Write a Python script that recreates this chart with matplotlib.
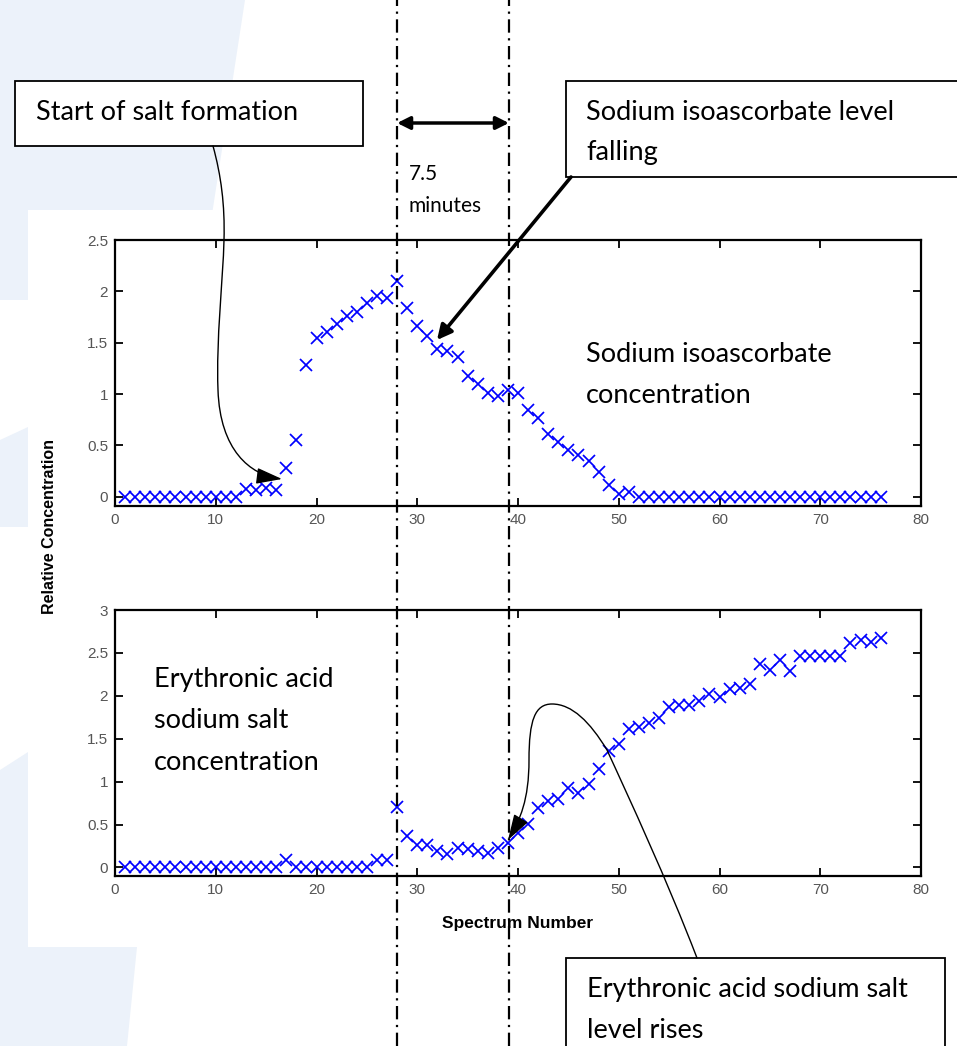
import numpy as np
import matplotlib
matplotlib.use("Agg")
from matplotlib import pyplot as plt
from matplotlib.patches import Rectangle, Polygon, FancyArrowPatch
from matplotlib.lines import Line2D
from matplotlib.path import Path
from matplotlib.transforms import blended_transform_factory

# spectrum numbers and the two concentration traces
spectrum = list(range(1, 77))
isoascorbate = [0, 0, 0, 0, 0, 0, 0, 0, 0, 0, 0, 0,
                0.08, 0.07, 0.09, 0.07, 0.28, 0.55, 1.28, 1.55, 1.60, 1.68, 1.76, 1.80,
                1.89, 1.95, 1.94, 2.10, 1.84, 1.66, 1.57, 1.44, 1.42, 1.36, 1.18, 1.10,
                1.01, 0.98, 1.04, 1.01, 0.84, 0.77, 0.61, 0.53, 0.46, 0.41, 0.35, 0.24,
                0.11, 0.03, 0.05,
                0, 0, 0, 0, 0, 0, 0, 0, 0, 0, 0, 0, 0, 0, 0, 0, 0, 0, 0, 0, 0, 0, 0, 0, 0]
erythronic = [0, 0, 0, 0, 0, 0, 0, 0, 0, 0, 0, 0, 0, 0, 0, 0,
              0.09,
              0, 0, 0, 0, 0, 0, 0, 0,
              0.085, 0.085, 0.70, 0.37, 0.26, 0.26, 0.19, 0.155, 0.23, 0.22, 0.19, 0.165,
              0.23, 0.29, 0.40, 0.505, 0.69, 0.77, 0.80, 0.92, 0.87, 0.97, 1.15, 1.36,
              1.44, 1.61, 1.64, 1.68, 1.74, 1.87, 1.89, 1.89, 1.94, 2.02, 1.99, 2.08,
              2.09, 2.14, 2.37, 2.30, 2.42, 2.29, 2.46, 2.46, 2.46, 2.46, 2.46, 2.61,
              2.65, 2.63, 2.67]

xticks = [0, 10, 20, 30, 40, 50, 60, 70, 80]
top_yticks = [0, 0.5, 1, 1.5, 2, 2.5]
bot_yticks = [0, 0.5, 1, 1.5, 2, 2.5, 3]
window = [28, 39.1]   # the 7.5 minute window

W, H = 957, 1046
def fx(x):
    return x / W
def fy(y):
    return 1 - y / H

fig = plt.figure(figsize=(W / 100, H / 100), dpi=100)
note_font = "Lato"
pale = "#ecf2fa"

# faint watermark behind the pasted chart
for poly in [[(0, 0), (245, 0), (205, 260), (28, 260), (28, 300), (0, 300)],
             [(0, 440), (28, 427), (28, 527), (0, 527)],
             [(0, 770), (28, 752), (28, 947), (0, 947)],
             [(0, 947), (137, 947), (127, 1046), (0, 1046)]]:
    fig.add_artist(Polygon([(fx(a), fy(b)) for a, b in poly], closed=True,
                           transform=fig.transFigure, fc=pale, ec="none", zorder=-3))
fig.add_artist(Rectangle((fx(28), fy(947)), (945 - 28) / W, (947 - 210) / H,
                         transform=fig.transFigure, fc="white", ec="none", zorder=-2))

ax1 = fig.add_axes([fx(115), fy(506), 806 / W, 266 / H])
ax2 = fig.add_axes([fx(115), fy(876), 806 / W, 266 / H])

for ax, y, yt, ylim in [(ax1, isoascorbate, top_yticks, (-0.09, 2.5)),
                        (ax2, erythronic, bot_yticks, (-0.1, 3))]:
    ax.plot(spectrum, y, "x", color="#0000ff", ms=8, mew=1.25, linestyle="none")
    ax.set_xlim(0, 80)
    ax.set_ylim(*ylim)
    ax.set_xticks(xticks, [str(t) for t in xticks])
    ax.set_yticks(yt, ["%g" % t for t in yt])
    ax.tick_params(direction="in", length=6, width=1.3, top=True, right=True,
                   labelsize=11, labelcolor="#555555", pad=5)
    for lab in ax.get_xticklabels() + ax.get_yticklabels():
        lab.set_fontfamily("Liberation Sans")
    for s in ax.spines.values():
        s.set_linewidth(1.6)
    ax.patch.set_alpha(0)

ax2.set_xlabel("Spectrum Number", fontsize=12.5, fontweight="bold",
               fontfamily="Liberation Sans", labelpad=14)
fig.text(fx(50), fy(527), "Relative Concentration", rotation=90, ha="center",
         va="center", fontsize=11.5, fontweight="bold", fontfamily="Liberation Sans")

# dash-dot markers spanning the whole page
blend = blended_transform_factory(ax1.transData, fig.transFigure)
for xv in window:
    fig.add_artist(Line2D([xv, xv], [0, 1], transform=blend, color="black", lw=1.6,
                          linestyle=(0, (6, 2.5, 1, 2.5)), zorder=6))
fig.add_artist(FancyArrowPatch((window[0], fy(123)), (window[1], fy(123)),
                               transform=blend, arrowstyle="<|-|>", mutation_scale=19,
                               lw=2.5, color="black", shrinkA=0, shrinkB=0, zorder=6))
fig.text(fx(409), fy(180), "7.5", fontsize=15, fontfamily=note_font, va="baseline")
fig.text(fx(409), fy(212), "minutes", fontsize=15, fontfamily=note_font, va="baseline")

# callout boxes
for x0, y0, x1, y1 in [(15, 81, 363, 146), (566, 81, 990, 177), (566, 958, 945, 1080)]:
    fig.add_artist(Rectangle((fx(x0), fy(y1)), (x1 - x0) / W, (y1 - y0) / H,
                             transform=fig.transFigure, fc="white", ec="black",
                             lw=1.3, zorder=4))

notes = [(36, 120, "Start of salt formation"),
         (586, 120, "Sodium isoascorbate level"),
         (586, 160, "falling"),
         (586, 362, "Sodium isoascorbate"),
         (586, 403, "concentration"),
         (154, 687, "Erythronic acid"),
         (154, 728, "sodium salt"),
         (154, 770, "concentration"),
         (587, 997, "Erythronic acid sodium salt"),
         (587, 1038, "level rises")]
for x, y, s in notes:
    fig.text(fx(x), fy(y), s, fontsize=19.5, fontfamily=note_font, va="baseline", zorder=5)

# arrows from the callouts
fig.add_artist(FancyArrowPatch((fx(571), fy(177)), (fx(437), fy(340)),
                               transform=fig.transFigure, arrowstyle="-|>",
                               mutation_scale=22, lw=2.6, color="black",
                               shrinkA=0, shrinkB=0, zorder=6))

C, M = Path.CURVE4, Path.MOVETO
curve1 = [(213, 146), (221, 175), (225, 205), (224, 240),
          (223, 280), (216, 340), (218, 390),
          (220, 450), (250, 475), (282, 479)]
curve2 = [(697, 958), (667, 880), (630, 800), (607, 750),
          (590, 722), (572, 704), (552, 704),
          (535, 704), (529, 720), (529, 760),
          (529, 800), (520, 820), (508, 840)]
for pts in [curve1, curve2]:
    codes = [M] + [C] * (len(pts) - 1)
    path = Path([(fx(a), fy(b)) for a, b in pts], codes)
    fig.add_artist(FancyArrowPatch(path=path, transform=fig.transFigure,
                                   arrowstyle="-|>,head_length=1.6,head_width=0.5",
                                   mutation_scale=10, lw=1.0, color="black", zorder=6))

fig.savefig("out.png", dpi=100)
